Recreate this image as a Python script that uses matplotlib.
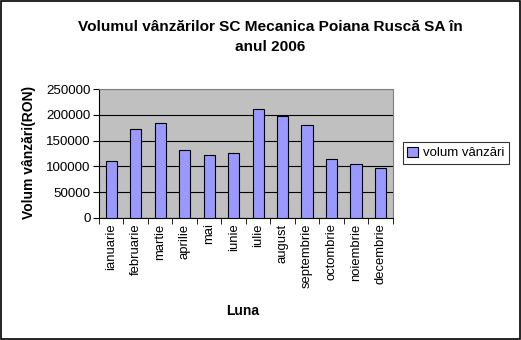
import numpy as np
import matplotlib
matplotlib.use("Agg")
import matplotlib.pyplot as plt
from matplotlib.patches import Rectangle

luni = ["ianuarie", "februarie", "martie", "aprilie", "mai", "iunie", "iulie",
        "august", "septembrie", "octombrie", "noiembrie", "decembrie"]
volum = [110500, 172000, 183500, 131000, 121500, 125500, 210500,
         197000, 179500, 113500, 104000, 96500]
y_ticks = [0, 50000, 100000, 150000, 200000, 250000]

plt.rcParams['font.family'] = ['Liberation Sans', 'DejaVu Sans']

fig = plt.figure(figsize=(5.21, 3.40), dpi=100)
fig.patches.append(Rectangle((0.002, 0.003), 0.996, 0.994, transform=fig.transFigure,
                             fill=False, edgecolor='black', linewidth=1.2))

ax = fig.add_axes([0.190, 0.359, 0.564, 0.379])
ax.set_facecolor('#C0C0C0')
x = np.arange(len(luni))
ax.bar(x, volum, width=0.46, color='#9999FF', edgecolor='black', linewidth=0.8,
       label='volum vânzări', zorder=3)

ax.set_xlim(-0.5, len(luni) - 0.5)
ax.set_ylim(0, 250000)
ax.set_yticks(y_ticks)
ax.set_yticklabels([str(v) for v in y_ticks], fontsize=9.6)
ax.yaxis.grid(True, color='black', linewidth=0.8, zorder=1)
ax.set_axisbelow(True)

ax.set_xticks(x)
ax.set_xticklabels(luni, rotation=90, fontsize=9.4)
ax.tick_params(axis='x', length=0, pad=4)
ax.set_xticks(np.arange(-0.5, len(luni)), minor=True)
ax.tick_params(axis='x', which='minor', length=4, direction='out', color='black')
ax.tick_params(axis='y', length=4, direction='out', color='black', pad=2)

for s in ['top', 'right']:
    ax.spines[s].set_color('#808080')
for s in ['left', 'bottom']:
    ax.spines[s].set_color('black')

fig.text(0.518, 0.891, "Volumul vânzărilor SC Mecanica Poiana Ruscă SA în\nanul 2006",
         ha='center', va='center', fontsize=11.1, fontweight='bold', linespacing=1.5)
fig.text(0.466, 0.085, "Luna", ha='center', va='center', fontsize=10, fontweight='bold')
fig.text(0.056, 0.553, "Volum vânzări(RON)", ha='center', va='center', rotation=90,
         fontsize=10, fontweight='bold')

leg = fig.legend(loc='center', bbox_to_anchor=(0.875, 0.55), fontsize=9.5,
                 frameon=True, fancybox=False, edgecolor='black',
                 handlelength=0.8, handleheight=0.8, handletextpad=0.4,
                 borderpad=0.35)
leg.get_frame().set_linewidth(0.8)

fig.savefig("out.png", dpi=100)
